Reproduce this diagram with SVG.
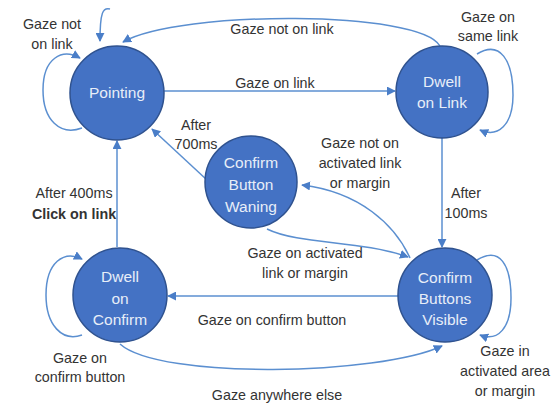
<svg xmlns="http://www.w3.org/2000/svg" width="560" height="403" viewBox="0 0 560 403">
<style>
.node circle{fill:#4472C4;stroke:#2F528F;stroke-width:1.5}
.node text{fill:#E8EEF8;font-family:"Liberation Sans",Arial,sans-serif;font-size:15.5px;text-anchor:middle}
.edges path{fill:none;stroke:#5B8FD0;stroke-width:1.5}
.lbl{fill:#333333;font-family:"Liberation Sans",Arial,sans-serif;font-size:14.3px;text-anchor:middle}
</style>
<defs>
<marker id="ah" viewBox="0 0 10 10" refX="9" refY="5" markerWidth="9" markerHeight="9" markerUnits="userSpaceOnUse" orient="auto">
<path d="M0,0 L10,5 L0,10 z" fill="#4A7EC8"/>
</marker>
</defs>
<rect width="560" height="403" fill="#fff"/>
<g id="edges" class="edges">
<path d="M163 91 L395 91" marker-end="url(#ah)"/>
<path d="M440 46 C420 10 180 10 123 42" marker-end="url(#ah)"/>
<path d="M110 9 C103 7 100 12 100 41" marker-end="url(#ah)"/>
<path d="M82 128 C60 136 43 120 43 90 C43 58 62 48 80 58" marker-end="url(#ah)"/>
<path d="M477 54 C500 40 513 60 513 95 C513 125 498 138 480 130" marker-end="url(#ah)"/>
<path d="M442 138 L442 247" marker-end="url(#ah)"/>
<path d="M398 296 L168 296" marker-end="url(#ah)"/>
<path d="M120 344 C160 380 380 375 442 346" marker-end="url(#ah)"/>
<path d="M82 335 C62 342 46 325 46 295 C46 262 64 250 82 259" marker-end="url(#ah)"/>
<path d="M477 260 C500 246 511 265 511 298 C511 328 498 342 480 335" marker-end="url(#ah)"/>
<path d="M117 247 L117 141" marker-end="url(#ah)"/>
<path d="M207 180 L152 129" marker-end="url(#ah)"/>
<path d="M410 258 C395 225 360 192 302 185" marker-end="url(#ah)"/>
<path d="M267 229 C300 245 360 240 408 257" marker-end="url(#ah)"/>
</g>
<g id="pointing" class="node"><circle cx="117" cy="93" r="47"/><text x="117" y="98">Pointing</text></g>
<g id="dwell-link" class="node"><circle cx="442" cy="92" r="46"/><text x="442" y="87">Dwell</text><text x="442" y="108">on Link</text></g>
<g id="waning" class="node"><circle cx="251" cy="182" r="46"/><text x="251" y="168">Confirm</text><text x="251" y="190">Button</text><text x="251" y="212">Waning</text></g>
<g id="dwell-confirm" class="node"><circle cx="120" cy="295" r="47"/><text x="120" y="282">Dwell</text><text x="120" y="304">on</text><text x="120" y="325">Confirm</text></g>
<g id="visible" class="node"><circle cx="445" cy="295" r="47"/><text x="445" y="283">Confirm</text><text x="445" y="304">Buttons</text><text x="445" y="325">Visible</text></g>
<g id="labels">
<text class="lbl" x="52" y="29">Gaze not</text><text class="lbl" x="52" y="49">on link</text>
<text class="lbl" x="282" y="34">Gaze not on link</text>
<text class="lbl" x="275" y="88">Gaze on link</text>
<text class="lbl" x="488" y="22">Gaze on</text><text class="lbl" x="488" y="41">same link</text>
<text class="lbl" x="196" y="130">After</text><text class="lbl" x="196" y="149">700ms</text>
<text class="lbl" x="360" y="148">Gaze not on</text><text class="lbl" x="360" y="168">activated link</text><text class="lbl" x="360" y="188">or margin</text>
<text class="lbl" x="466" y="198">After</text><text class="lbl" x="466" y="218">100ms</text>
<text class="lbl" x="74" y="198">After 400ms</text><text class="lbl" x="74" y="219" font-weight="bold">Click on link</text>
<text class="lbl" x="305" y="258">Gaze on activated</text><text class="lbl" x="305" y="278">link or margin</text>
<text class="lbl" x="272" y="325">Gaze on confirm button</text>
<text class="lbl" x="80" y="363">Gaze on</text><text class="lbl" x="80" y="382">confirm button</text>
<text class="lbl" x="505" y="356">Gaze in</text><text class="lbl" x="505" y="376">activated area</text><text class="lbl" x="505" y="396">or margin</text>
<text class="lbl" x="277" y="400">Gaze anywhere else</text>
</g>
</svg>
